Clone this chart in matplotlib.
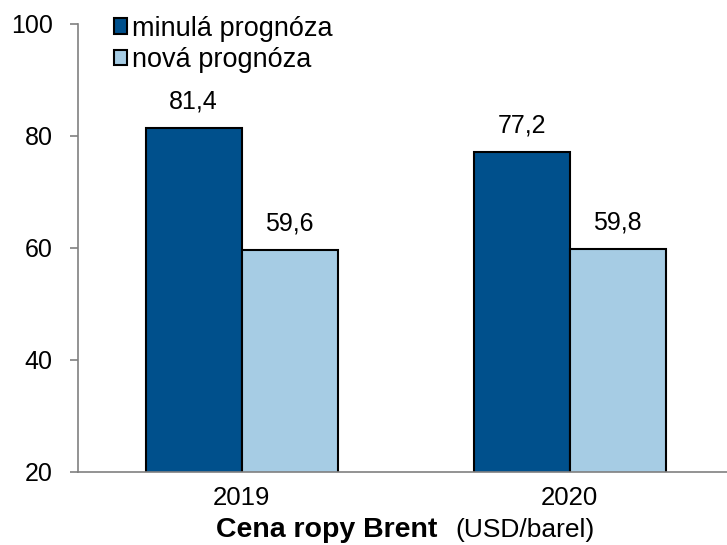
import numpy as np
import matplotlib.pyplot as plt

plt.rcParams['font.family'] = ['Liberation Sans', 'DejaVu Sans']

years = ['2019', '2020']
old_forecast = [81.4, 77.2]
new_forecast = [59.6, 59.8]
series_names = ['minulá prognóza', 'nová prognóza']
colors = ['#00508C', '#A6CCE4']

fig = plt.figure(figsize=(7.27, 5.45), dpi=100)
ax = fig.add_axes([0.107, 0.134, 0.893, 0.822])

x = np.arange(len(years))
w = 0.293
b1 = ax.bar(x - w / 2, old_forecast, w, bottom=0, color=colors[0],
            edgecolor='black', linewidth=1.5, label=series_names[0])
b2 = ax.bar(x + w / 2, new_forecast, w, bottom=0, color=colors[1],
            edgecolor='black', linewidth=1.5, label=series_names[1])

for bars, vals in [(b1, old_forecast), (b2, new_forecast)]:
    for rect, v in zip(bars, vals):
        ax.text(rect.get_x() + rect.get_width() / 2, v + 2.6,
                f'{v:.1f}'.replace('.', ','), ha='center', va='bottom', fontsize=18)

ax.set_ylim(20, 100)
ax.set_yticks([20, 40, 60, 80, 100])
ax.set_xlim(-0.5, 1.48)
ax.set_xticks(x)
ax.set_xticklabels(years)
ax.tick_params(axis='y', labelsize=18, length=6, color='#808080', width=1.2, pad=12)
ax.tick_params(axis='x', labelsize=18.5, length=0, pad=10)

for s in ['top', 'right']:
    ax.spines[s].set_visible(False)
ax.spines['left'].set_color('#808080')
ax.spines['bottom'].set_color('#808080')
ax.spines['left'].set_linewidth(1.2)
ax.spines['bottom'].set_linewidth(1.2)

leg = ax.legend(loc='upper left', bbox_to_anchor=(0.039, 1.043), frameon=False,
                fontsize=19.5, handlelength=0.5, handleheight=0.5,
                handletextpad=0.15, labelspacing=0.21, borderaxespad=0)
for p in leg.get_patches():
    p.set_linewidth(1.5)

fig.text(0.602, 0.027, 'Cena ropy Brent', ha='right', va='center',
         fontsize=20.5, fontweight='bold')
fig.text(0.627, 0.027, '(USD/barel)', ha='left', va='center', fontsize=19)

fig.savefig('out.png', dpi=100)
